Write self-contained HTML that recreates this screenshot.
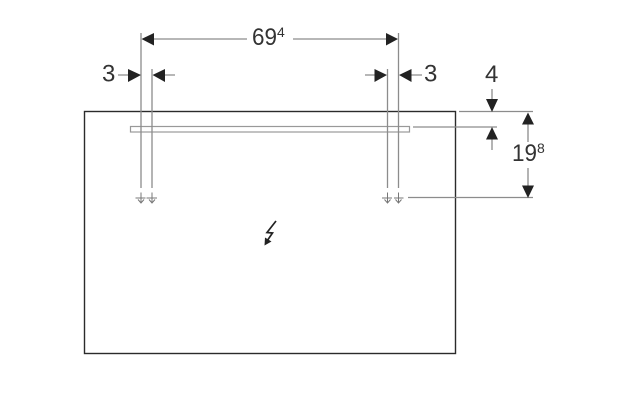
<!DOCTYPE html>
<html>
<head>
<meta charset="utf-8">
<style>
html,body{margin:0;padding:0;background:#fff;width:629px;height:405px;overflow:hidden}
svg{display:block}
text{font-family:"Liberation Sans",Arial,sans-serif;fill:#333}
</style>
</head>
<body>
<svg width="629" height="405" viewBox="0 0 629 405" xmlns="http://www.w3.org/2000/svg">
<rect x="84.500" y="111.500" width="371" height="242" fill="#fff" stroke="#2b2b2b" stroke-width="1.400"/>
<rect x="130.500" y="126.500" width="279" height="5.500" fill="#fff" stroke="#999" stroke-width="1.200"/>
<g stroke="#8c8c8c" stroke-width="1.300" fill="none">
<path d="M141 33V188M152 69V188M387.500 69V188M398.500 33V188"/>
<path d="M154 39H247M293 39H386"/>
<path d="M118 75H129M164 75H175M365 75H375M411 75H422"/>
<path d="M459 111.500H533M413 127H497M408 197.500H533"/>
<path d="M492 89V100M492 139V150M528 124V142M528 168V186"/>
</g>
<g stroke="#777" stroke-width="1" fill="none">
<path d="M135.500 198H145.500M146.500 198H157M382 198H392M394 198H403.500"/>
<path d="M141 192.500V203M152 192.500V203M387.500 192.500V203M398.500 192.500V203"/>
<path d="M138 199.500L141 203L144 199.500M149 199.500L152 203L155 199.500M384.500 199.500L387.500 203L390.500 199.500M395.500 199.500L398.500 203L401.500 199.500"/>
</g>
<g fill="#222">
<path d="M141.500 39L154 33V45.500Z"/>
<path d="M398 39L386 33V45.500Z"/>
<path d="M141 75L128 69V82Z"/>
<path d="M152.500 75L165 69V82Z"/>
<path d="M387 75L374.500 69V82Z"/>
<path d="M399 75L411.500 69V82Z"/>
<path d="M492 112L486 99H498Z"/>
<path d="M492 127L486 139.500H498Z"/>
<path d="M528 112.500L522 124.500H534Z"/>
<path d="M528 198L522 185.500H534Z"/>
</g>
<path d="M276 221L267 232.500L272.500 233L267 241" fill="none" stroke="#222" stroke-width="1.700"/>
<path d="M264.500 245.500L265 237.500L271.500 241.500Z" fill="#222"/>
<text x="252" y="45" font-size="24" textLength="25" lengthAdjust="spacingAndGlyphs">69</text>
<text x="277" y="37" font-size="14">4</text>
<text x="102" y="81.500" font-size="24">3</text>
<text x="424" y="81.500" font-size="24">3</text>
<text x="485" y="82" font-size="24">4</text>
<text x="512" y="161" font-size="24" textLength="25" lengthAdjust="spacingAndGlyphs">19</text>
<text x="537" y="153" font-size="14">8</text>
</svg>
</body>
</html>
